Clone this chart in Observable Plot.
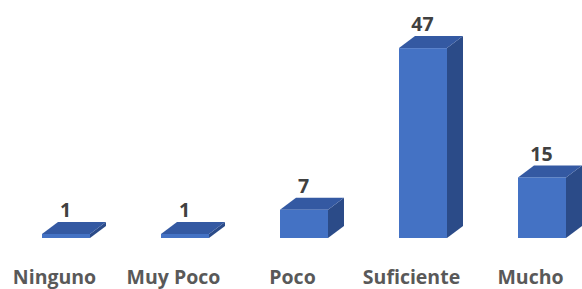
<!DOCTYPE html>
<html><head><meta charset="utf-8">
<script src="https://cdn.jsdelivr.net/npm/d3@7"></script>
<script src="https://cdn.jsdelivr.net/npm/@observablehq/plot@0.6"></script>
<style>html,body{margin:0;padding:0;background:#fff;}</style>
</head><body><div id="chart"></div>
<script>
const categories = ["Ninguno", "Muy Poco", "Poco", "Suficiente", "Mucho"];
const values = [1, 1, 7, 47, 15];
const data = categories.map((c, i) => ({category: c, value: values[i]}));

const frontColor = "#4472C4";
const topColor = "#3459A2";
const sideColor = "#2B4B88";
const DX = 16, DY = 12;

function faces(index, scales) {
  const x = scales.x, y = scales.y;
  const bw = x.bandwidth();
  const g = d3.create("svg:g");
  for (const d of data) {
    const x0 = x(d.category), x1 = x0 + bw, y0 = y(0), y1 = y(d.value);
    g.append("path")
      .attr("d", `M${x1},${y0}L${x1 + DX},${y0 - DY}L${x1 + DX},${y1 - DY}L${x1},${y1}Z`)
      .attr("fill", sideColor);
    g.append("path")
      .attr("d", `M${x0},${y1}L${x0 + DX},${y1 - DY}L${x1 + DX},${y1 - DY}L${x1},${y1}Z`)
      .attr("fill", topColor);
  }
  return g.node();
}

const chart = Plot.plot({
  width: 582,
  height: 289,
  marginTop: 36,
  marginBottom: 51,
  marginLeft: 16,
  marginRight: 0,
  style: {fontFamily: "Open Sans", fontSize: "19.5px", fontWeight: "bold", color: "#595959", background: "#fff"},
  x: {domain: categories, range: [16, 592], paddingInner: 0.6, paddingOuter: 0.2, axis: null},
  y: {domain: [0, 50], axis: null},
  marks: [
    faces,
    Plot.barY(data, {x: "category", y: "value", fill: frontColor}),
    Plot.text(data, {x: "category", y: "value", text: d => String(d.value), dy: -23.5, dx: -1, fill: "#404040"}),
    Plot.text(data, {x: "category", text: "category", frameAnchor: "bottom", dy: 45, dx: -12, fill: "#595959"})
  ]
});
document.getElementById("chart").appendChild(chart);
</script>
</body></html>
